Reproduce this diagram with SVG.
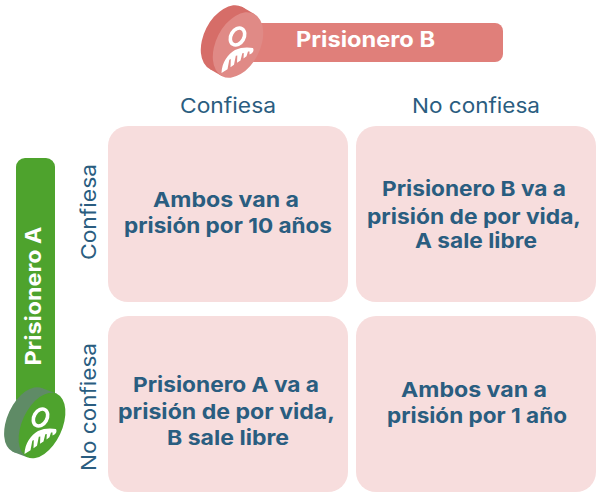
<svg xmlns="http://www.w3.org/2000/svg" width="600" height="498" viewBox="0 0 600 498">
<style>
.cell{fill:#f7dddd}
.t{font-family:"Inter","Noto Sans",sans-serif;font-weight:700;font-size:20.5px;fill:#2a5d80;text-anchor:middle}
.h{font-family:"Inter","Noto Sans",sans-serif;font-weight:400;font-size:20.5px;fill:#2a5d80;text-anchor:middle}
.w{font-family:"Inter","Noto Sans",sans-serif;font-weight:700;font-size:21px;fill:#fff;text-anchor:middle}
</style>
<defs>
<g id="person">
<ellipse cx="0.500" cy="-10.500" rx="6.500" ry="9" transform="rotate(30 0.500 -10.500)" fill="none" stroke="#fff" stroke-width="3.600"/>
<path d="M-15.500 26 C-15 15 -9 7 -2 3 C4 0 11 0 16 1 C17 3 16.500 5 14.500 6.500 L12.500 7.500 L12.500 4.500 L11 4.600 L9.500 9.300 L6.500 11.400 L6.800 6 L5.300 6.200 L3.500 13.400 L0 15.800 L0.300 8.500 L-1.200 8.800 L-3 17.800 L-6.500 20.200 L-6.200 12 L-7.700 12.800 L-9.500 22.300 Z" fill="#fff"/>
</g>
</defs>
<g id="cell-cc"><rect class="cell" x="108" y="126" width="240" height="176" rx="20"/>
<text class="t" x="226" y="207" textLength="146" lengthAdjust="spacingAndGlyphs">Ambos van a</text>
<text class="t" x="228" y="233" textLength="208" lengthAdjust="spacingAndGlyphs">prisión por 10 años</text></g>
<g id="cell-cn"><rect class="cell" x="356" y="126" width="240" height="176" rx="20"/>
<text class="t" x="474" y="196" textLength="184" lengthAdjust="spacingAndGlyphs">Prisionero B va a</text>
<text class="t" x="474" y="224" textLength="214" lengthAdjust="spacingAndGlyphs">prisión de por vida,</text>
<text class="t" x="476" y="248" textLength="122" lengthAdjust="spacingAndGlyphs">A sale libre</text></g>
<g id="cell-nc"><rect class="cell" x="108" y="316" width="240" height="176" rx="20"/>
<text class="t" x="226" y="392" textLength="186" lengthAdjust="spacingAndGlyphs">Prisionero A va a</text>
<text class="t" x="226.500" y="419" textLength="217" lengthAdjust="spacingAndGlyphs">prisión de por vida,</text>
<text class="t" x="228" y="445" textLength="122" lengthAdjust="spacingAndGlyphs">B sale libre</text></g>
<g id="cell-nn"><rect class="cell" x="356" y="316" width="240" height="176" rx="20"/>
<text class="t" x="474" y="397" textLength="146" lengthAdjust="spacingAndGlyphs">Ambos van a</text>
<text class="t" x="477" y="423" textLength="180" lengthAdjust="spacingAndGlyphs">prisión por 1 año</text></g>
<g id="col-headers">
<text class="h" x="228" y="113" textLength="96" lengthAdjust="spacingAndGlyphs">Confiesa</text>
<text class="h" x="476" y="113" textLength="128" lengthAdjust="spacingAndGlyphs">No confiesa</text>
</g>
<g id="row-headers">
<text class="h" transform="translate(96 212) rotate(-90)" textLength="96" lengthAdjust="spacingAndGlyphs">Confiesa</text>
<text class="h" transform="translate(96 407) rotate(-90)" textLength="128" lengthAdjust="spacingAndGlyphs">No confiesa</text>
</g>
<g id="prisionero-b">
<rect x="235" y="23" width="268" height="39" rx="8" fill="#e07f7a"/>
<ellipse cx="226" cy="38" rx="35" ry="22" transform="rotate(-63 226 38)" fill="#d66d68"/>
<polygon points="241.900,6.800 253.900,13.800 222.100,76.200 210.100,69.200" fill="#d66d68"/>
<ellipse cx="238" cy="45" rx="35" ry="22" transform="rotate(-63 238 45)" fill="#e08a86"/>
<use href="#person" transform="translate(237 47)"/>
<text class="w" x="365.500" y="47" textLength="139" lengthAdjust="spacingAndGlyphs">Prisionero B</text>
</g>
<g id="prisionero-a">
<rect x="16" y="158" width="39" height="250" rx="9" fill="#4ea32d"/>
<ellipse cx="27.500" cy="420" rx="35" ry="20" transform="rotate(-65 27.500 420)" fill="#5f8b66"/>
<polygon points="42.300,388.300 56.800,393.800 27.200,457.200 12.700,451.700" fill="#5f8b66"/>
<ellipse cx="42" cy="425.500" rx="35" ry="20" transform="rotate(-65 42 425.500)" fill="#4ea32d"/>
<use href="#person" transform="translate(40 428)"/>
<text class="w" transform="translate(41 296) rotate(-90)" textLength="139" lengthAdjust="spacingAndGlyphs">Prisionero A</text>
</g>
</svg>
